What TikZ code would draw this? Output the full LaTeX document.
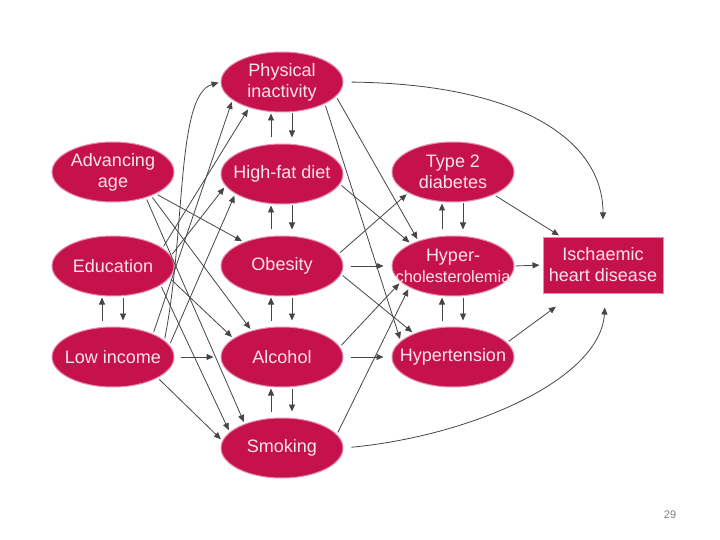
\documentclass[tikz,border=0pt]{standalone}
\usepackage{fontspec}
\setmainfont{Liberation Sans}
\usetikzlibrary{arrows.meta,shapes.geometric}
\definecolor{bor}{RGB}{198,18,74}
\definecolor{halo}{RGB}{232,140,174}
\definecolor{betu}{RGB}{255,228,240}
\definecolor{vonal}{RGB}{70,70,70}
\tikzset{
  ovl/.style={ellipse,fill=bor,draw=halo,line width=1pt,minimum width=122pt,
    minimum height=60pt,inner sep=-20pt,align=center,text=betu,font=\fontsize{18}{21}\selectfont},
  dob/.style={rectangle,fill=bor,draw=halo,line width=1pt,minimum width=120pt,
    minimum height=56pt,inner sep=0pt,align=center,text=betu,font=\fontsize{18}{21}\selectfont},
  nyil/.style={draw=vonal,line width=0.8pt,-{Triangle[length=7pt,width=6pt]},shorten <=2pt,shorten >=2pt},
  fel/.style={nyil,shorten <=6pt,shorten >=1pt},
  le/.style={nyil,shorten <=1pt,shorten >=6pt},
}

\begin{document}
\begin{tikzpicture}[x=1pt,y=-1pt]
  \fill[white] (0,0) rectangle (720,540);
  \useasboundingbox (0,0) rectangle (720,540);
  \node[ovl] (age) at (113,172) {Advancing\\age};
  \node[ovl] (edu) at (113,266) {Education};
  \node[ovl] (inc) at (113,357) {Low income};
  \node[ovl] (pi) at (282,82) {Physical\\inactivity};
  \node[ovl] (hfd) at (282,174) {High-fat diet};
  \node[ovl] (obe) at (282,266) {Obesity};
  \node[ovl] (alc) at (282,357) {Alcohol};
  \node[ovl] (smk) at (282,448) {Smoking};
  \node[ovl] (dia) at (453,172) {Type 2\\diabetes};
  \node[ovl] (chol) at (453,266) {Hyper-\\{\fontsize{16.4}{19}\selectfont cholesterolemia}};
  \node[ovl] (hyp) at (453,357) {Hypertension};
  \node[dob] (ihd) at (603,265) {Ischaemic\\heart disease};
  \node[text=gray,font=\fontsize{11}{13}\selectfont] (lap) at (670,515) {29};
  % up and down pairs
  \foreach \a/\b in {pi/hfd,hfd/obe,obe/alc,alc/smk,edu/inc,dia/chol,chol/hyp}{
    \draw[fel] ([xshift=-11pt]\b.north) -- ([xshift=-11pt]\a.south);
    \draw[le] ([xshift=10pt]\a.south) -- ([xshift=10pt]\b.north);
  }
  % left column
  \draw[nyil] (age.-27) -- (obe.148);
  \draw[nyil] (age.-32) -- (alc.139);
  \draw[nyil] (age.-38) -- (smk.147);
  \draw[nyil] (edu.20) -- (pi.218);
  \draw[nyil] (edu.10) -- (hfd.192);
  \draw[nyil] (edu.-12) -- (alc.159);
  \draw[nyil] (edu.-22) -- (smk.163);
  \draw[nyil] (inc.30) -- (pi.200);
  \draw[nyil] (inc.18) .. controls (186,230) and (176,95) .. (pi.180);
  \draw[nyil] (inc.12) -- (hfd.203);
  \draw[nyil,shorten <=6pt,shorten >=7pt] (inc.east) -- (alc.west);
  \draw[nyil] (inc.-25) -- (smk.173);
  % middle column
  \draw[nyil,shorten <=8pt] (pi.east) .. controls (520,84) and (603,140) .. ([yshift=15pt]ihd.north);
  \draw[nyil] (pi.-15) -- (chol.144);
  \draw[nyil] (pi.-27) -- (hyp.163);
  \draw[nyil] (hfd.-10) -- (chol.152);
  \draw[nyil] (obe.12) -- (dia.205);
  \draw[nyil,shorten <=7pt,shorten >=8pt] (obe.east) -- (chol.west);
  \draw[nyil] (obe.-8) -- (hyp.149);
  \draw[nyil] (alc.10) -- (chol.197);
  \draw[nyil,shorten <=7pt,shorten >=8pt] (alc.east) -- (hyp.west);
  \draw[nyil] (smk.14) -- (chol.206);
  \draw[nyil,shorten <=8pt] (smk.east) .. controls (470,436) and (600,380) .. ([xshift=2pt,yshift=-12pt]ihd.south);
  % right column
  \draw[nyil] (dia.-29) -- (ihd.146);
  \draw[nyil,shorten <=1pt,shorten >=3pt] (chol.east) -- (ihd.west);
  \draw[nyil] (hyp.15) -- ([xshift=15pt,yshift=-12pt]ihd.south west);
\end{tikzpicture}
\end{document}
